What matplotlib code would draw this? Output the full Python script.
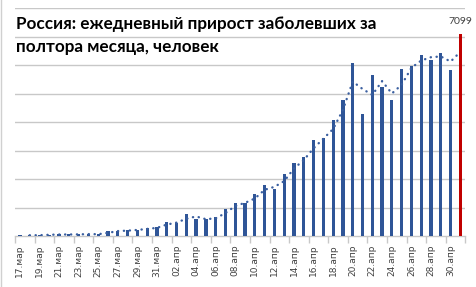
import numpy as np
import pandas as pd
import matplotlib
matplotlib.use("Agg")
import matplotlib.pyplot as plt

# daily new cases, 17.мар .. 01.май
dates = ["17.мар", "18.мар", "19.мар", "20.мар", "21.мар", "22.мар", "23.мар", "24.мар",
         "25.мар", "26.мар", "27.мар", "28.мар", "29.мар", "30.мар", "31.мар",
         "01.апр", "02.апр", "03.апр", "04.апр", "05.апр", "06.апр", "07.апр", "08.апр",
         "09.апр", "10.апр", "11.апр", "12.апр", "13.апр", "14.апр", "15.апр", "16.апр",
         "17.апр", "18.апр", "19.апр", "20.апр", "21.апр", "22.апр", "23.апр", "24.апр",
         "25.апр", "26.апр", "27.апр", "28.апр", "29.апр", "30.апр", "01.май"]
cases = [30, 21, 33, 52, 54, 53, 61, 71, 57, 163, 182, 196, 228, 270, 302,
         500, 440, 771, 601, 582, 658, 954, 1154, 1175, 1459, 1786, 1667, 2186,
         2558, 2774, 3388, 3448, 4070, 4785, 6060, 4268, 5642, 5236, 4774, 5849,
         5966, 6361, 6198, 6411, 5841, 7099]

blue = "#2F5597"
red = "#C00000"
grid = "#C8C8C8"

x = np.arange(len(dates))
vals = np.array(cases)
trend = pd.Series(cases).rolling(2).mean()  # moving average trendline, period 2

fig = plt.figure(figsize=(4.77, 2.87), dpi=100)
ax = fig.add_axes([15/477, 51/287, 450.3/477, 227.8/287])

colors = [blue] * (len(vals) - 1) + [red]
ax.bar(x, vals, width=0.33, color=colors, zorder=3)
ax.plot(x, trend, color="#3A5FA0", lw=1.7, linestyle=(0, (0.1, 2.4)),
        dash_capstyle="round", zorder=4)

ax.set_xlim(-0.5, len(dates) - 0.5)
ax.set_ylim(0, 8000)
for yv in range(1000, 8001, 1000):
    ax.axhline(yv, color=grid, lw=1, zorder=1)

for s in ["left", "right", "top"]:
    ax.spines[s].set_visible(False)
ax.spines["bottom"].set_color(grid)
ax.spines["bottom"].set_linewidth(1)
ax.set_yticks([])

ax.set_xticks(np.arange(-0.5, len(dates), 2), minor=False)
ax.set_xticklabels([])
ax.tick_params(axis="x", which="major", length=5, color=grid, width=1)
ax.set_xticks(x[::2][:23], minor=True)
ax.set_xticklabels(dates[::2][:23], minor=True, rotation=90,
                   fontfamily="Liberation Sans Narrow", fontsize=6.5, color="#404040")
ax.tick_params(axis="x", which="minor", length=0, pad=6)

ax.text(x[-1], vals[-1] + 260, str(cases[-1]), ha="center", va="bottom",
        fontfamily="Lato", fontsize=7.5, color="#404040")

fig.text(16/477, 1 - 29/287, "Россия: ежедневный прирост заболевших за",
         fontfamily="Lato", fontweight="bold", fontsize=12.3, va="baseline")
fig.text(16/477, 1 - 52/287, "полтора месяца, человек",
         fontfamily="Lato", fontweight="bold", fontsize=12.3, va="baseline")

fig.add_artist(plt.Line2D([1.3/477, 1.3/477], [0, 1], color="#D0D0D0", lw=1))

fig.savefig("out.png", dpi=100)
